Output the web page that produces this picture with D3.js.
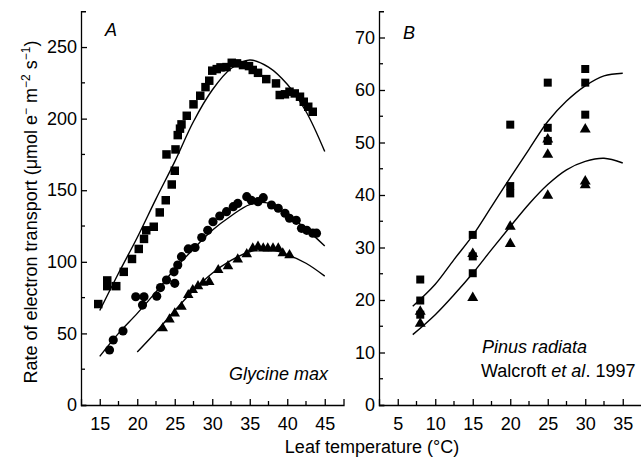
<!DOCTYPE html>
<html>
<head>
<meta charset="utf-8">
<script src="https://cdn.jsdelivr.net/npm/d3@7"></script>
<style>
body { margin: 0; background: #fff; }
text { font-family: "Liberation Sans", Arial, sans-serif; fill: #000; }
</style>
</head>
<body>
<div id="chart"></div>
<script>

// ---- panel A (Glycine max) measured points ----
var tA_sq = [14.8,16.0,16.0,17.2,18.2,19.3,20.2,20.9,21.2,22.2,23.0,23.8,23.9,24.6,25.0,25.1,25.4,25.7,25.9,26.6,27.5,28.4,29.1,29.6,30.0,30.6,31.1,31.9,32.6,33.3,34.1,34.9,35.4,36.1,37.2,38.5,39.0,39.7,40.3,41.0,41.7,42.2,42.8,43.4];
var jA_sq = [70.5,87,83,83,93,102,109,116,122,124.5,134.5,143,175,154,163.6,178.5,188.5,193,196,202,210,216,222,226.5,233.5,234.6,235.8,236,239,238.6,237.4,236.7,234,232,227.6,224.6,216.5,217,218.8,217.6,215.3,211.8,208.3,204.8];

var tA_ci = [16.3,16.8,18.1,19.8,20.9,20.7,22.6,23.1,23.9,25.0,24.9,25.4,25.9,26.8,27.7,28.6,29.4,30.1,31.0,31.9,32.8,33.4,34.6,35.2,36.1,36.8,37.9,38.8,39.7,40.3,41.2,41.9,42.6,43.4,43.9];
var jA_ci = [38.4,45.4,51.7,75.6,75.6,69.8,76,82,87.3,85,93,97.8,103.6,109,110,117,122,128,132,135,138.5,140.8,145.5,143,142,144.8,139.7,137.4,133.9,130.4,129,123.4,122,120,120];

var tA_tr = [23.4,24.3,25.0,25.9,26.8,27.4,28.1,28.8,29.6,30.8,32.1,33.4,34.6,35.4,36.1,36.8,37.4,38.1,38.8,39.4,40.3];
var jA_tr = [53.6,59.8,64,68.6,76.8,80.3,83,85.4,86,94.3,97,101.7,105.4,109.4,110.6,109.4,109.4,109.4,109.4,106,104.7];

// fitted curves, panel A
var fitA_t   = [15,17.5,20,22.5,25,27.5,30,32.5,35,37.5,40,42.5,45];
var fitA_sq  = [66,92,117,144,170,198,220,235,241,236,224,205,177];
var fitA_ci  = [34,50,64,79,95,109,122,132,140,141,133,123,111];
var fitA_trT = [20,22.5,25,27.5,30,32.5,35,37.5,40,42.5,45];
var fitA_tr  = [37,51,66,80,92,101,107,109,105,99,90];

// ---- panel B (Pinus radiata) measured points ----
var tB_sq = [8,8,8,15,15,15,20,20,20,25,25,25,30,30,30];
var jB_sq = [23.9,19.9,17.2,32.4,28.3,25.1,53.4,41.7,40.3,61.4,52.8,50.3,64.0,61.4,55.3];
var tB_tr = [8,8,15,15,20,20,25,25,25,30,30,30];
var jB_tr = [17.8,15.5,28.8,20.4,34.0,30.7,50.6,47.7,39.9,52.5,42.6,41.9];

// fitted curves, panel B
var fitB_t  = [7,10,12.5,15,17.5,20,22.5,25,27.5,30,32.5,35];
var fitB_up = [18.8,23,27.7,32.3,37.8,43.3,48.7,54,57.9,60.8,62.7,63.2];
var fitB_lo = [13.4,17.2,21,25.1,29.6,34,38.3,42,44.8,46.4,47,46.1];

// axis ticks
var xTicksA = [15,20,25,30,35,40,45], xMinorA = [17.5,22.5,27.5,32.5,37.5,42.5];
var yTicksA = [0,50,100,150,200,250], yMinorA = [25,75,125,175,225];
var xTicksB = [5,10,15,20,25,30,35], xMinorB = [7.5,12.5,17.5,22.5,27.5,32.5];
var yTicksB = [0,10,20,30,40,50,60,70], yMinorB = [5,15,25,35,45,55,65];

var W = 641, H = 467;
var top0 = 11.25, bottom0 = 405;

var svg = d3.select("#chart")
    .append("svg")
    .attr("width", W)
    .attr("height", H);

// scales
var xA = d3.scaleLinear().domain([12.5, 47.5]).range([81, 343.5]);
var yA = d3.scaleLinear().domain([0, 275]).range([bottom0, top0]);
var xB = d3.scaleLinear().domain([2.5, 37.5]).range([379, 641.5]);
var yB = d3.scaleLinear().domain([0, 75]).range([bottom0, top0]);

function drawAxes(x, y, xt, xm, yt, ym) {
    var gx = svg.append("g")
        .attr("transform", "translate(0," + bottom0 + ")")
        .call(d3.axisBottom(x).tickValues(xt).tickSize(-6).tickSizeOuter(-6).tickPadding(12).tickFormat(d3.format("d")));
    var gy = svg.append("g")
        .attr("transform", "translate(" + x.range()[0] + ",0)")
        .call(d3.axisLeft(y).tickValues(yt).tickSize(-6).tickSizeOuter(-5).tickPadding(4).tickFormat(d3.format("d")));
    // minor ticks
    gx.selectAll(".minor").data(xm).enter().append("line")
        .attr("x1", function(d) { return x(d); })
        .attr("x2", function(d) { return x(d); })
        .attr("y1", 0).attr("y2", -4)
        .attr("stroke", "#000").attr("stroke-width", 1.3);
    gy.selectAll(".minor").data(ym).enter().append("line")
        .attr("y1", function(d) { return y(d); })
        .attr("y2", function(d) { return y(d); })
        .attr("x1", 0).attr("x2", 4)
        .attr("stroke", "#000").attr("stroke-width", 1.3);
    [gx, gy].forEach(function(g) {
        g.selectAll("path, line").attr("stroke", "#000").attr("stroke-width", 1.3);
        g.selectAll("text").attr("font-size", 18).attr("font-family", "Liberation Sans, Arial, sans-serif").attr("fill", "#000");
    });
}

drawAxes(xA, yA, xTicksA, xMinorA, yTicksA, yMinorA);
drawAxes(xB, yB, xTicksB, xMinorB, yTicksB, yMinorB);

function fitLine(x, y, ts, vs) {
    var line = d3.line()
        .x(function(d) { return x(d[0]); })
        .y(function(d) { return y(d[1]); })
        .curve(d3.curveCatmullRom);
    svg.append("path")
        .datum(d3.zip(ts, vs))
        .attr("d", line)
        .attr("fill", "none")
        .attr("stroke", "#000")
        .attr("stroke-width", 1.4);
}

function points(x, y, ts, vs, type, size) {
    var sym = d3.symbol().type(type).size(size);
    svg.append("g").selectAll("path")
        .data(d3.zip(ts, vs))
        .enter().append("path")
        .attr("transform", function(d) { return "translate(" + x(d[0]) + "," + y(d[1]) + ")"; })
        .attr("d", sym)
        .attr("fill", "#000");
}

// panel A
fitLine(xA, yA, fitA_t, fitA_sq);
fitLine(xA, yA, fitA_t, fitA_ci);
fitLine(xA, yA, fitA_trT, fitA_tr);
points(xA, yA, tA_sq, jA_sq, d3.symbolSquare, 72);
points(xA, yA, tA_ci, jA_ci, d3.symbolCircle, 66);
points(xA, yA, tA_tr, jA_tr, d3.symbolTriangle, 48);

// panel B
fitLine(xB, yB, fitB_t, fitB_up);
fitLine(xB, yB, fitB_t, fitB_lo);
points(xB, yB, tB_sq, jB_sq, d3.symbolSquare, 64);
points(xB, yB, tB_tr, jB_tr, d3.symbolTriangle, 52);

// labels
svg.append("text").attr("x", 105).attr("y", 36).attr("font-size", 18).attr("font-style", "italic").text("A");
svg.append("text").attr("x", 403).attr("y", 39).attr("font-size", 18).attr("font-style", "italic").text("B");
svg.append("text").attr("x", 328).attr("y", 380).attr("font-size", 18).attr("font-style", "italic")
    .attr("text-anchor", "end").text("Glycine max");
svg.append("text").attr("x", 482).attr("y", 353).attr("font-size", 18).attr("font-style", "italic").text("Pinus radiata");
var wal = svg.append("text").attr("x", 481).attr("y", 377).attr("font-size", 18);
wal.append("tspan").text("Walcroft ");
wal.append("tspan").attr("font-style", "italic").text("et al");
wal.append("tspan").text(". 1997");

// x axis title
svg.append("text").attr("x", 372).attr("y", 453).attr("font-size", 18)
    .attr("text-anchor", "middle").text("Leaf temperature (\u00B0C)");

// y axis title with superscripts
var yl = svg.append("text")
    .attr("transform", "translate(37,212) rotate(-90)")
    .attr("text-anchor", "middle")
    .attr("font-size", 18);
yl.append("tspan").text("Rate of electron transport (\u03BCmol e");
yl.append("tspan").attr("dy", -7).attr("font-size", 12).text("\u2212");
yl.append("tspan").attr("dy", 7).text(" m");
yl.append("tspan").attr("dy", -7).attr("font-size", 12).text("\u22122");
yl.append("tspan").attr("dy", 7).text(" s");
yl.append("tspan").attr("dy", -7).attr("font-size", 12).text("\u22121");
yl.append("tspan").attr("dy", 7).text(")");

</script>
</body>
</html>
